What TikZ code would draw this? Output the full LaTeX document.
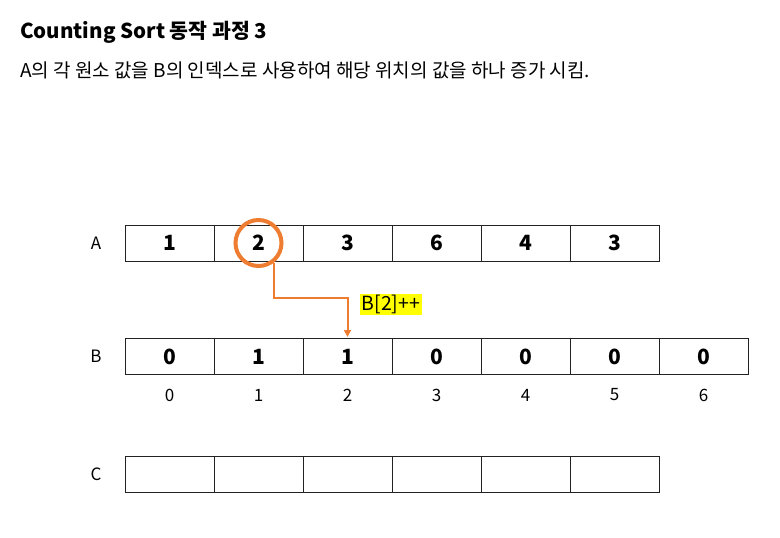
\documentclass[tikz,border=0pt]{standalone}
\usepackage{fontspec}
\setmainfont{Noto Sans CJK KR}
\usetikzlibrary{arrows.meta,calc}
\definecolor{orng}{HTML}{EE7D31}
\definecolor{hl}{HTML}{FFFF00}
\definecolor{edge}{HTML}{222222}
\tikzset{
  cell/.style={draw=edge,line width=1pt,minimum width=89pt,minimum height=36pt,inner sep=0pt,anchor=center,font=\fontsize{21}{22}\selectfont\bfseries},
  rowlab/.style={font=\fontsize{17}{18}\selectfont,anchor=center},
  idx/.style={font=\fontsize{17}{18}\selectfont,anchor=center},
  conn/.style={draw=orng,line width=2pt,-{Triangle[width=7pt,length=7pt]}}
}
\begin{document}
\begin{tikzpicture}[x=1pt,y=-1pt]
\useasboundingbox (0,0) rectangle (780,538);
\node[anchor=base west,font=\fontsize{20.5}{22}\selectfont\bfseries,inner sep=0pt] (title) at (20,38) {Counting Sort 동작 과정 3};
\node[anchor=base west,font=\fontsize{19}{20}\selectfont,inner sep=0pt] (sub) at (20,77) {A의 각 원소 값을 B의 인덱스로 사용하여 해당 위치의 값을 하나 증가 시킴.};
\node[rowlab] (la) at (96,243) {A};
\node[rowlab] (lb) at (96,356) {B};
\node[rowlab] (lc) at (96,474) {C};
\foreach \v [count=\i from 0] in {1,2,3,6,4,3} {
  \node[cell] (a\i) at ({169.5+89*\i},243) {\v};
}
\foreach \v [count=\i from 0] in {0,1,1,0,0,0,0} {
  \node[cell] (b\i) at ({169.5+89*\i},356.5) {\v};
  \node[idx] (i\i) at ({169.5+89*\i},395) {\i};
}
\foreach \i in {0,...,5} {
  \node[cell] (c\i) at ({169.5+89*\i},474) {};
}
\node[draw=orng,line width=4pt,circle,minimum size=46pt,inner sep=0pt] (circ) at (258.5,243) {};
\coordinate (turn) at (273,298);
\draw[conn] (circ.-53) -- (circ.-53 |- turn) -| ($(b2.north)+(0,-1)$);
\node[fill=hl,anchor=center,inner sep=1.5pt,font=\fontsize{19.5}{20}\selectfont] (lbl) at (391,304.5) {B[2]++};
\end{tikzpicture}
\end{document}
